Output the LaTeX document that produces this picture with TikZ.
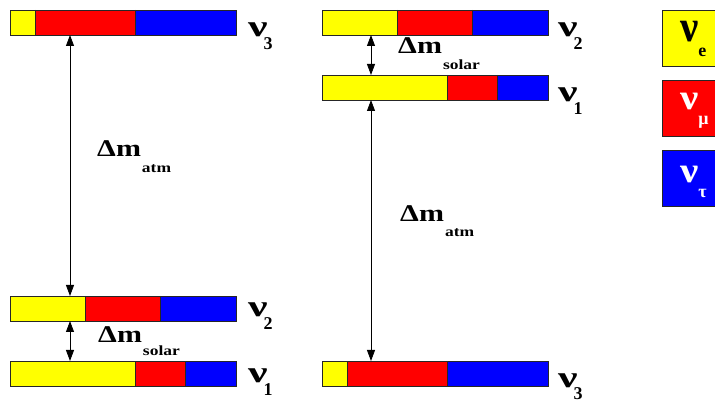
\documentclass[tikz,border=0pt]{standalone}
\usepackage{fontspec}
\setmainfont{Liberation Serif}
\usetikzlibrary{arrows.meta}

\definecolor{nuE}{RGB}{255,255,0}
\definecolor{nuMu}{RGB}{255,0,0}
\definecolor{nuTau}{RGB}{0,0,255}

% one mass eigenstate: flavour fractions a:b:c (in units of 25.1pt) and a frame node
\newcommand\massbar[6]{%
  \fill[nuE]   (#2,#3) rectangle ++({#4*25.1},25);
  \fill[nuMu]  ({#2+#4*25.1},#3) rectangle ++({#5*25.1},25);
  \fill[nuTau] ({#2+(#4+#5)*25.1},#3) rectangle ({#2+(#4+#5+#6)*25.1},{#3+25});
  \draw[barline] ({#2+#4*25.1},#3) -- ++(0,25);
  \draw[barline] ({#2+(#4+#5)*25.1},#3) -- ++(0,25);
  \node[barframe, anchor=north west, minimum width={(#4+#5+#6)*25.1*1pt}] (#1) at (#2,#3) {};
}
% wide bold nu with a lowered index
\newcommand\nulab[1]{\scalebox{1.45}[1]{\fontsize{30}{30}\selectfont ν}\kern-4pt\raisebox{-13pt}{\fontsize{18}{18}\selectfont #1}}
% mass splitting label
\newcommand\dmlab[2]{\scalebox{1.25}[1]{\fontsize{24}{24}\selectfont Δm}\kern1pt\raisebox{-#2}{\scalebox{1.25}[1]{\fontsize{14}{14}\selectfont #1}}}
% flavour key label: #1 vertical scale of nu, #2 index
\newcommand\leglab[2]{\scalebox{1.2}[#1]{\fontsize{34}{34}\selectfont ν}\kern0pt\raisebox{-15pt}{\fontsize{18}{18}\selectfont #2}}

\begin{document}
\begin{tikzpicture}[x=1pt,y=-1pt,font=\bfseries,
  barline/.style={draw=black!85,line width=0.8pt},
  barframe/.style={draw=black!85,line width=0.8pt,inner sep=0pt,outer sep=0pt,minimum height=25pt},
  dbl/.style={{Triangle[length=11pt,width=8pt]}-{Triangle[length=11pt,width=8pt]},line width=0.8pt},
  lab/.style={anchor=base west,inner sep=0pt,text=black},
  legbox/.style={draw=black!85,line width=0.8pt,anchor=north west,inner sep=0pt,minimum width=56pt,minimum height=56pt}]
\useasboundingbox (0,0) rectangle (715,403);

% normal hierarchy
\massbar{L3}{10}{10}{1}{4}{4}
\massbar{L2}{10}{296}{3}{3}{3}
\massbar{L1}{10}{361}{5}{2}{2}

% inverted hierarchy
\massbar{R2}{322}{10}{3}{3}{3}
\massbar{R1}{322}{75}{5}{2}{2}
\massbar{R3}{322}{361}{1}{4}{4}

% splittings
\coordinate (axL) at (70,0);
\coordinate (axR) at (371,0);
\draw[dbl] (L3.south -| axL) -- (L2.north -| axL);
\draw[dbl] (L2.south -| axL) -- (L1.north -| axL);
\draw[dbl] (R2.south -| axR) -- (R1.north -| axR);
\draw[dbl] (R1.south -| axR) -- (R3.north -| axR);

% state labels
\node[lab] (tL3) at (248,37) {\nulab{3}};
\node[lab] (tL2) at (248,317) {\nulab{2}};
\node[lab] (tL1) at (248,382) {\nulab{1}};
\node[lab] (tR2) at (558,37) {\nulab{2}};
\node[lab] (tR1) at (558,102) {\nulab{1}};
\node[lab] (tR3) at (558,387) {\nulab{3}};

\node[lab] (dmL1) at (97,157) {\dmlab{atm}{16pt}};
\node[lab] (dmL2) at (98,343) {\dmlab{solar}{13pt}};
\node[lab] (dmR1) at (398,54) {\dmlab{solar}{16pt}};
\node[lab] (dmR2) at (400,222) {\dmlab{atm}{15pt}};

% flavour key
\node[legbox,fill=nuE]   (kE)   at (662,10)  {};
\node[legbox,fill=nuMu]  (kMu)  at (662,80)  {};
\node[legbox,fill=nuTau] (kTau) at (662,150) {};
\node[lab] (kEt)   at (680,42)  {\leglab{1.3}{e}};
\node[lab,text=white] (kMut)  at (680,110) {\leglab{1.05}{μ}};
\node[lab,text=white] (kTaut) at (680,183) {\leglab{1.05}{τ}};
\end{tikzpicture}
\end{document}
